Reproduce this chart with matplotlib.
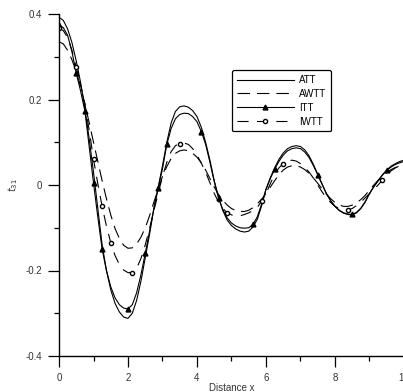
import matplotlib
matplotlib.use("Agg")
import matplotlib.pyplot as plt
import numpy as np
from matplotlib.ticker import MultipleLocator, FuncFormatter

plt.rcParams['font.family'] = ['Liberation Sans', 'DejaVu Sans']
plt.rcParams['axes.unicode_minus'] = False
plt.rcParams['lines.scale_dashes'] = False

# stations along x, every 1/8
x = np.arange(0, 10.001, 0.125)

att = [0.392, 0.385, 0.365, 0.333, 0.290, 0.240, 0.180, 0.108,
       0.030, -0.055, -0.140, -0.200, -0.245, -0.277, -0.297, -0.309,
       -0.312, -0.300, -0.270, -0.225, -0.170, -0.115, -0.055, -0.005,
       0.045, 0.100, 0.145, 0.172, 0.183, 0.185, 0.182, 0.174,
       0.160, 0.135, 0.100, 0.058, 0.010, -0.030, -0.060, -0.082,
       -0.095, -0.103, -0.108, -0.110, -0.108, -0.098, -0.080, -0.048,
       -0.010, 0.017, 0.040, 0.060, 0.075, 0.085, 0.090, 0.092,
       0.090, 0.082, 0.068, 0.048, 0.025, 0.002, -0.020, -0.037,
       -0.050, -0.060, -0.066, -0.069, -0.070, -0.065, -0.055, -0.040,
       -0.020, -0.004, 0.010, 0.024, 0.035, 0.044, 0.050, 0.055,
       0.058]
awtt = [0.335, 0.330, 0.315, 0.293, 0.265, 0.230, 0.190, 0.146,
        0.100, 0.055, 0.010, -0.032, -0.070, -0.102, -0.125, -0.141,
        -0.148, -0.147, -0.138, -0.122, -0.100, -0.072, -0.040, -0.010,
        0.020, 0.043, 0.062, 0.074, 0.080, 0.082, 0.080, 0.074,
        0.065, 0.052, 0.035, 0.015, -0.005, -0.022, -0.036, -0.047,
        -0.055, -0.060, -0.062, -0.062, -0.059, -0.053, -0.044, -0.033,
        -0.020, -0.005, 0.010, 0.024, 0.035, 0.042, 0.045, 0.045,
        0.042, 0.036, 0.027, 0.016, 0.004, -0.009, -0.021, -0.032,
        -0.041, -0.047, -0.050, -0.050, -0.047, -0.042, -0.034, -0.024,
        -0.012, 0.000, 0.011, 0.021, 0.029, 0.036, 0.041, 0.044,
        0.046]
itt = [0.374, 0.368, 0.350, 0.312, 0.262, 0.220, 0.173, 0.090,
       0.005, -0.075, -0.150, -0.200, -0.238, -0.264, -0.280, -0.288,
       -0.290, -0.280, -0.252, -0.210, -0.160, -0.108, -0.055, -0.008,
       0.038, 0.095, 0.132, 0.155, 0.165, 0.168, 0.167, 0.160,
       0.148, 0.125, 0.095, 0.053, 0.008, -0.030, -0.058, -0.077,
       -0.089, -0.096, -0.100, -0.101, -0.100, -0.092, -0.074, -0.044,
       -0.010, 0.015, 0.037, 0.055, 0.070, 0.080, 0.085, 0.087,
       0.085, 0.077, 0.064, 0.045, 0.024, 0.002, -0.020, -0.037,
       -0.050, -0.059, -0.065, -0.068, -0.069, -0.064, -0.054, -0.039,
       -0.020, -0.004, 0.010, 0.023, 0.034, 0.042, 0.048, 0.052,
       0.055]
iwtt = [0.367, 0.361, 0.345, 0.315, 0.275, 0.235, 0.190, 0.128,
        0.060, 0.003, -0.050, -0.096, -0.135, -0.165, -0.186, -0.199,
        -0.205, -0.205, -0.195, -0.172, -0.140, -0.102, -0.060, -0.020,
        0.020, 0.053, 0.078, 0.092, 0.097, 0.098, 0.095, 0.085,
        0.070, 0.051, 0.030, 0.005, -0.020, -0.040, -0.055, -0.065,
        -0.070, -0.072, -0.072, -0.069, -0.065, -0.060, -0.052, -0.038,
        -0.020, 0.003, 0.025, 0.040, 0.050, 0.056, 0.058, 0.056,
        0.050, 0.041, 0.030, 0.016, 0.000, -0.016, -0.030, -0.041,
        -0.050, -0.055, -0.058, -0.058, -0.055, -0.048, -0.040, -0.030,
        -0.020, -0.010, 0.000, 0.012, 0.025, 0.033, 0.040, 0.045,
        0.050]

# stations that carry symbols
itt_marks = [0, 4, 6, 8, 10, 16, 20, 23, 25, 33, 37, 45, 50, 60, 68, 76]
iwtt_marks = [0, 4, 8, 10, 12, 17, 28, 39, 47, 52, 67, 75]

fig = plt.figure(figsize=(4.03, 3.92), dpi=100)
ax = fig.add_axes([59 / 403, 36 / 392, 345 / 403, 342 / 392])

ax.plot(x, att, color='black', lw=0.8, label='ATT')
ax.plot(x, awtt, color='black', lw=0.8, dashes=(9, 5), label='AWTT')
ax.plot(x, itt, color='black', lw=0.8, marker='^', ms=3.5,
        markevery=itt_marks, label='ITT')
ax.plot(x, iwtt, color='black', lw=0.8, dashes=(8, 6), marker='o', ms=3,
        mfc='white', mew=1, markevery=iwtt_marks, label='IWTT')

ax.set_xlim(0, 10)
ax.set_ylim(-0.4, 0.4)
ax.xaxis.set_major_locator(MultipleLocator(2))
ax.xaxis.set_minor_locator(MultipleLocator(1))
ax.yaxis.set_major_locator(MultipleLocator(0.2))
ax.yaxis.set_minor_locator(MultipleLocator(0.1))
ax.yaxis.set_major_formatter(FuncFormatter(lambda v, p: f'{v:g}'))

for s in ['top', 'right']:
    ax.spines[s].set_visible(False)
for s in ['left', 'bottom']:
    ax.spines[s].set_linewidth(1.0)

ax.tick_params(which='major', direction='out', length=8, width=0.9,
               labelsize=7, pad=4, color='black', labelcolor='#333333')
ax.tick_params(which='minor', direction='out', length=3.6, width=0.9)

ax.set_xlabel('Distance x', fontsize=7, labelpad=0, color='#333333')
ax.set_ylabel('$t_{31}$', fontsize=7, labelpad=4, color='#333333')

leg = ax.legend(loc='upper left', bbox_to_anchor=(0.501, 0.836),
                borderaxespad=0, fontsize=7, handlelength=5.9, numpoints=1,
                fancybox=True, framealpha=1, edgecolor='black',
                labelspacing=0.4, borderpad=0.5, handletextpad=0.5)
leg.get_frame().set_linewidth(0.9)

fig.savefig('out.png', dpi=100)
